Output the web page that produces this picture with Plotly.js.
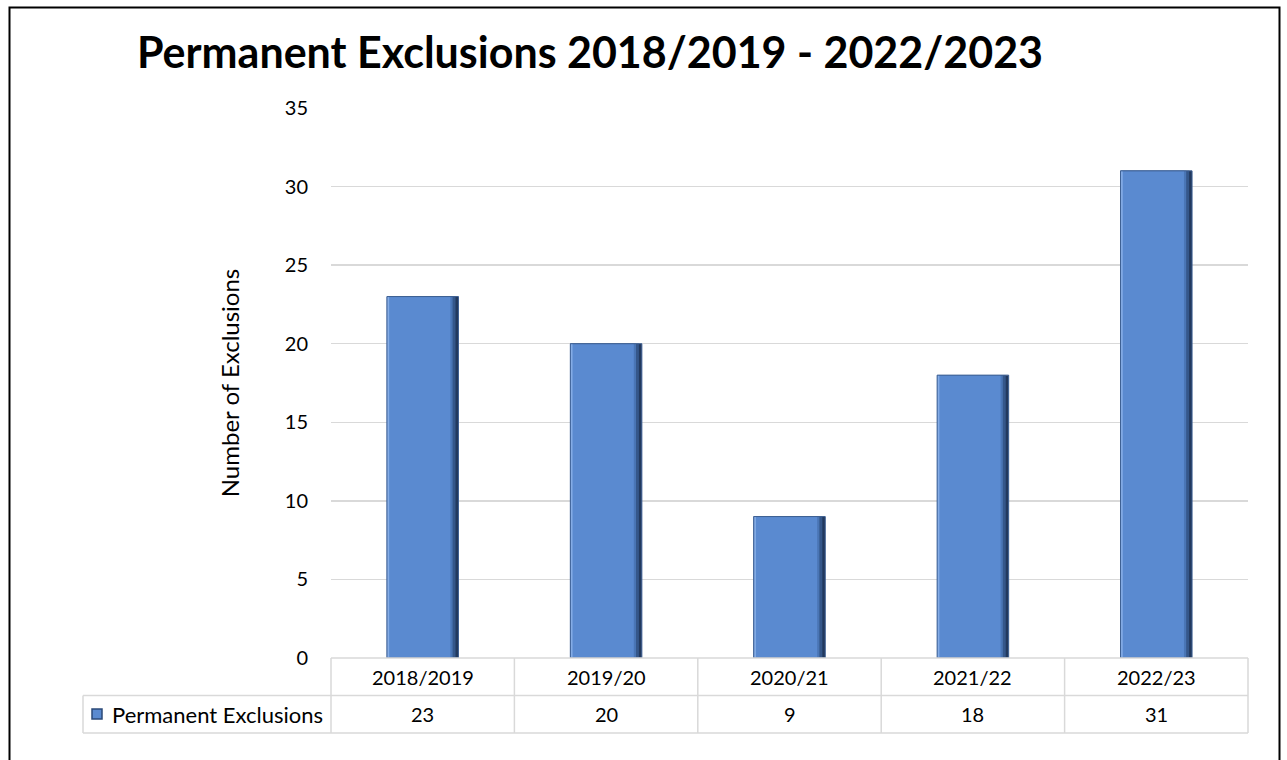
<!DOCTYPE html>
<html>
<head>
<meta charset="utf-8">
<script src="https://cdn.plot.ly/plotly-3.0.1.min.js"></script>
<style>
html,body{margin:0;padding:0;background:#fff;}
#chart{width:1287px;height:760px;}
</style>
</head>
<body>
<div id="chart"></div>
<script>
const categories = ["2018/2019", "2019/20", "2020/21", "2021/22", "2022/23"];
const exclusions = [23, 20, 9, 18, 31];
const seriesName = "Permanent Exclusions";
const yTicks = [0, 5, 10, 15, 20, 25, 30, 35];

const W = 1287, H = 760;
const L = 331, R = 1248, T = 108, B = 658;
const pw = R - L, ph = B - T;
const px = x => (x - L) / pw;
const py = y => (B - y) / ph;

const FONT = "Lato, 'Open Sans', sans-serif";
const gridCol = "#d9d9d9";
const barCol = "#5a8ad0";

const shapes = [];
const ann = [];
function line(x0, y0, x1, y1, col, w) {
  shapes.push({type: "line", xref: "paper", yref: "paper", x0: px(x0), y0: py(y0), x1: px(x1), y1: py(y1),
    line: {color: col, width: w}});
}
// outer border
shapes.push({type: "rect", xref: "paper", yref: "paper", x0: px(9.5), y0: py(7.5), x1: px(1279.5), y1: py(790),
  line: {color: "#000", width: 2}, fillcolor: "rgba(0,0,0,0)"});
// data table
const rowTop = 658, rowMid = 695.5, rowBot = 733, leftX = 83;
line(L, rowTop, R, rowTop, gridCol, 1.5);
line(leftX, rowMid, R, rowMid, gridCol, 1.5);
line(leftX, rowBot, R, rowBot, gridCol, 1.5);
line(leftX, rowMid, leftX, rowBot, gridCol, 1.5);
for (let i = 0; i <= categories.length; i++) {
  const x = L + pw * i / categories.length;
  line(x, rowTop, x, rowBot, gridCol, 1.5);
}
// legend key
shapes.push({type: "rect", xref: "paper", yref: "paper", x0: px(92), y0: py(709), x1: px(102), y1: py(719),
  fillcolor: barCol, line: {color: "#2b4a78", width: 1.5}});
ann.push({xref: "paper", yref: "paper", x: px(110), y: py((rowMid + rowBot) / 2), text: seriesName,
  showarrow: false, xanchor: "left", yanchor: "middle", font: {family: FONT, size: 22, color: "#000"}});

categories.forEach((c, i) => {
  ann.push({xref: "x", yref: "paper", x: c, y: py((rowTop + rowMid) / 2), text: c, showarrow: false,
    xanchor: "center", yanchor: "middle", font: {family: FONT, size: 20, color: "#000"}});
  ann.push({xref: "x", yref: "paper", x: c, y: py((rowMid + rowBot) / 2), text: String(exclusions[i]), showarrow: false,
    xanchor: "center", yanchor: "middle", font: {family: FONT, size: 20, color: "#000"}});
});

const BW = 0.39;
// layered bars of the same values to imitate the bevelled Excel look
function layer(width, color) {
  return {type: "bar", x: categories, y: exclusions, name: seriesName,
    width: width, offset: -BW / 2, marker: {color: color, line: {width: 0}}};
}
const traces = [
  layer(BW, "#22395e"),
  layer(BW - 0.016, "#35578a"),
  layer(BW - 0.032, "#4a76b6"),
  layer(BW - 0.044, barCol),
  layer(0.012, "#84ace6"),
  {type: "bar", x: categories, y: exclusions, name: seriesName, width: BW, offset: -BW / 2,
    marker: {color: "rgba(0,0,0,0)", line: {color: "#3d5f92", width: 1}}}
];

const layout = {
  width: W, height: H,
  margin: {l: L, r: W - R, t: T, b: H - B, pad: 0},
  paper_bgcolor: "#fff", plot_bgcolor: "#fff",
  showlegend: false,
  barmode: "overlay",
  title: {text: "<b>Permanent Exclusions 2018/2019 - 2022/2023</b>", x: 590 / W, xanchor: "center",
    y: 1 - 53 / H, yanchor: "middle", font: {family: FONT, size: 43, color: "#000"}},
  xaxis: {type: "category", showticklabels: false, showgrid: false, zeroline: false, showline: false,
    ticks: "", range: [-0.5, categories.length - 0.5]},
  yaxis: {range: [0, 35], tickvals: yTicks, showgrid: true, gridcolor: gridCol, gridwidth: 1.5,
    zeroline: false, showline: false, ticks: "", ticklabelstandoff: 22,
    tickfont: {family: FONT, size: 20, color: "#000"},
    title: {text: "Number of Exclusions", standoff: 38, font: {family: FONT, size: 24, color: "#000"}}},
  shapes: shapes,
  annotations: ann
};

Plotly.newPlot("chart", traces, layout, {displayModeBar: false, staticPlot: true});
</script>
</body>
</html>
